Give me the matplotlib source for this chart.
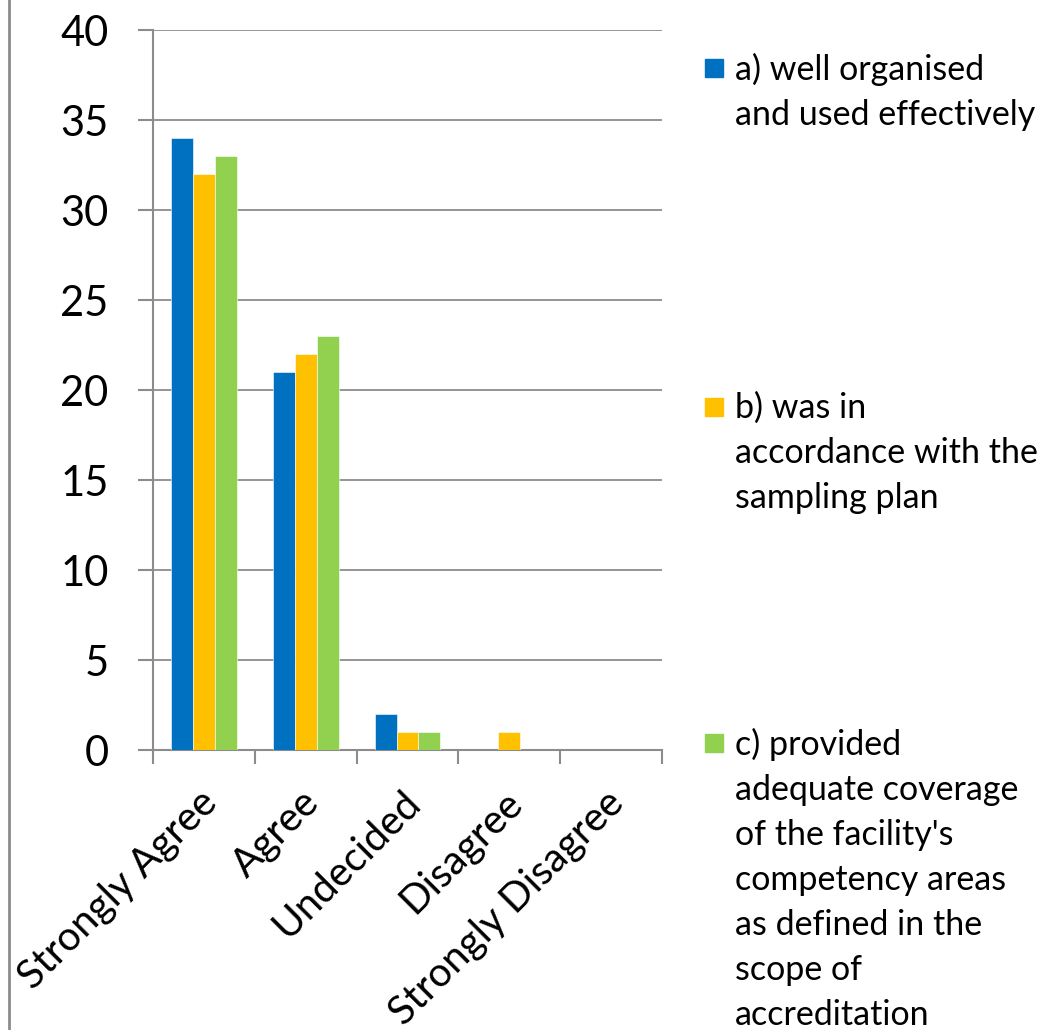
import numpy as np
import matplotlib
matplotlib.use("Agg")
from matplotlib import pyplot as plt
from matplotlib.patches import Rectangle
from matplotlib.lines import Line2D

plt.rcParams['font.family'] = ['Lato', 'DejaVu Sans']

categories = ['Strongly Agree', 'Agree', 'Undecided', 'Disagree', 'Strongly Disagree']
serie_a = [34, 21, 2, 0, 0]
serie_b = [32, 22, 1, 1, 0]
serie_c = [33, 23, 1, 0, 0]
etichete = ['a) well organised\nand used effectively',
            'b) was in\naccordance with the\nsampling plan',
            "c) provided\nadequate coverage\nof the facility's\ncompetency areas\nas defined in the\nscope of\naccreditation"]
culori = ['#0070C0', '#FFC000', '#92D050']
yticks = [0, 5, 10, 15, 20, 25, 30, 35, 40]

W, H = 1049, 1030
fig = plt.figure(figsize=(W / 100, H / 100), dpi=100)
ax = fig.add_axes([153 / W, 1 - 750 / H, (662 - 153) / W, (750 - 30) / H])

x = np.arange(len(categories))
bw = 0.216
for k, (vals, c) in enumerate(zip([serie_a, serie_b, serie_c], culori)):
    ax.bar(x + (k - 1) * bw, vals, bw, color=c, edgecolor='white', linewidth=0.4, zorder=3)

gri = '#8c8c8c'
ax.set_xlim(-0.5, len(categories) - 0.5)
ax.set_ylim(0, 40)
ax.set_yticks(yticks)
ax.yaxis.grid(True, color=gri, linewidth=1.3, zorder=0)
for s in ['top', 'right']:
    ax.spines[s].set_visible(False)
for s in ['left', 'bottom']:
    ax.spines[s].set_color(gri)
    ax.spines[s].set_linewidth(1.5)

ax.tick_params(axis='y', length=11, width=1.5, color=gri, labelsize=30, pad=21)
ax.set_xticks(np.arange(len(categories) + 1) - 0.5)
ax.set_xticklabels([])
ax.tick_params(axis='x', length=10, width=1.5, color=gri)
for i, cat in enumerate(categories):
    ax.text(i + 0.07, -2.6, cat, rotation=45, ha='right', va='center',
            rotation_mode='anchor', fontsize=29)

# legenda
poz = [53, 392, 728]
for lab, c, y in zip(etichete, culori, poz):
    fig.add_artist(Rectangle((705 / W, 1 - (y + 24) / H), 18 / W, 18 / H,
                             transform=fig.transFigure, color=c))
    fig.text(735 / W, 1 - y / H, lab, ha='left', va='top', fontsize=24.5, linespacing=1.5)

fig.add_artist(Line2D([8.5 / W, 8.5 / W], [0, 1], color=gri, linewidth=2))

fig.savefig('out.png', dpi=100)
